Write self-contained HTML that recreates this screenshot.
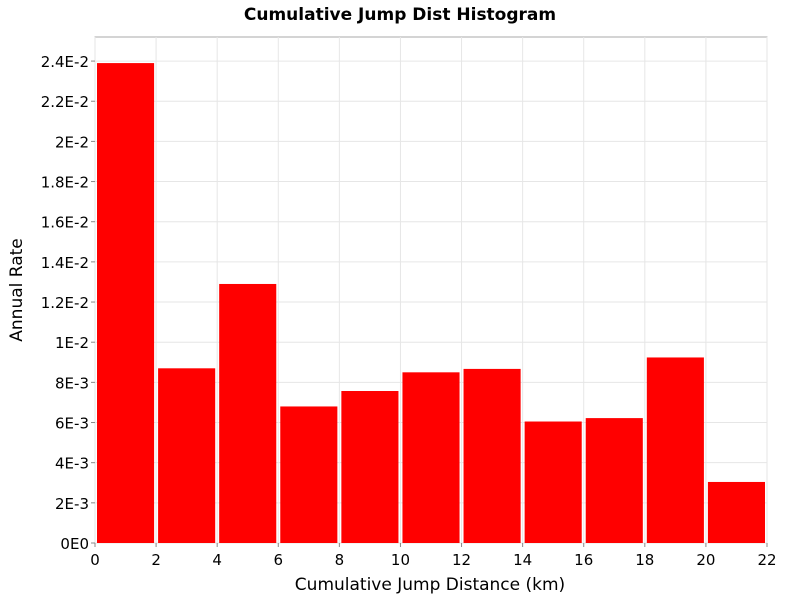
<!DOCTYPE html>
<html><head><meta charset="utf-8"><style>
body{margin:0;background:#fff;font-family:"Liberation Sans","DejaVu Sans",sans-serif}
</style></head><body>
<svg id="chart" width="800" height="600" xmlns="http://www.w3.org/2000/svg">
<text x="400" y="20" text-anchor="middle" font-family="DejaVu Sans, sans-serif" font-weight="bold" font-size="17">Cumulative Jump Dist Histogram</text>
<rect x="95" y="37" width="672" height="506" fill="#fff" stroke="#aaa"/>
<g id="grid"></g><g id="bars"></g><g id="axes"></g>
<text x="430" y="590" text-anchor="middle" font-family="DejaVu Sans, sans-serif" font-size="17">Cumulative Jump Distance (km)</text>
<text transform="translate(22,290) rotate(-90)" text-anchor="middle" font-family="DejaVu Sans, sans-serif" font-size="17">Annual Rate</text>
</svg>
<script>
const binStarts=[0,2,4,6,8,10,12,14,16,18,20];
const binWidth=2;
const rates=[0.0239,0.0087,0.0129,0.0068,0.00757,0.0085,0.00867,0.00605,0.00622,0.00924,0.00304];
const yTicks=[0,0.002,0.004,0.006,0.008,0.010,0.012,0.014,0.016,0.018,0.020,0.022,0.024];
const yTickLabels=["0E0","2E-3","4E-3","6E-3","8E-3","1E-2","1.2E-2","1.4E-2","1.6E-2","1.8E-2","2E-2","2.2E-2","2.4E-2"];
const xTicks=[0,2,4,6,8,10,12,14,16,18,20,22];
const NS="http://www.w3.org/2000/svg";
const L=95,R=767,T=37,B=543,xMax=22,yMax=(B-T)/20.08*0.001;
const xs=v=>L+v/xMax*(R-L), ys=v=>B-v/yMax*(B-T);
function mk(tag,attrs,parent){const e=document.createElementNS(NS,tag);for(const k in attrs)e.setAttribute(k,attrs[k]);document.getElementById(parent).appendChild(e);return e;}
yTicks.forEach((v,i)=>{
 const g=mk('line',{x1:L,x2:R,y1:ys(v),y2:ys(v),stroke:'#e6e6e6','stroke-width':1},'grid');
 
 
 const t=mk('text',{x:L-6,y:ys(v)+6,'text-anchor':'end','font-size':15,'font-family':'DejaVu Sans, sans-serif'},'axes');
 t.textContent=yTickLabels[i];
 
 
 const m=mk('line',{x1:L-4,x2:L,y1:ys(v),y2:ys(v),stroke:'#888'},'axes');
 
 
});
xTicks.forEach(v=>{
 const g=mk('line',{x1:xs(v),x2:xs(v),y1:T,y2:B,stroke:'#e6e6e6','stroke-width':1},'grid');
 
 
 const t=mk('text',{x:xs(v),y:B+22,'text-anchor':'middle','font-size':15,'font-family':'DejaVu Sans, sans-serif'},'axes');
 t.textContent=String(v);
 
 
 const m=mk('line',{x1:xs(v),x2:xs(v),y1:B,y2:B+4,stroke:'#888'},'axes');
 
 
});
binStarts.forEach((s,i)=>{
 const x0=xs(s)+2,x1=xs(s+binWidth)-2;
 const r=mk('rect',{x:x0,y:ys(rates[i]),width:x1-x0,height:B-ys(rates[i]),fill:'#ff0000'},'bars');
 
 
});
</script>
</body></html>
